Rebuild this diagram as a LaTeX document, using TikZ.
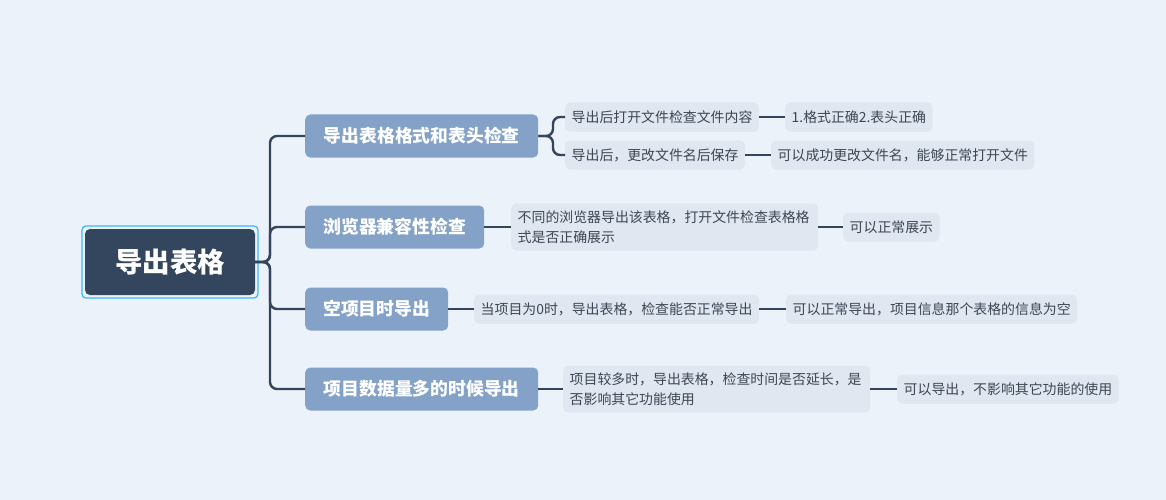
\documentclass[tikz,border=0pt]{standalone}
\usepackage{fontspec}
\setmainfont{Noto Sans CJK SC}
\usepackage{tikz}
\usepackage{xcolor}
\definecolor{bgcol}{RGB}{235,242,250}
\definecolor{rootcol}{RGB}{52,70,94}
\definecolor{rimcol}{RGB}{61,184,245}
\definecolor{topcol}{RGB}{132,162,200}
\definecolor{subcol}{RGB}{224,231,240}
\definecolor{txtcol}{RGB}{60,70,84}
\definecolor{linecol}{RGB}{52,68,92}

\begin{document}
\begin{tikzpicture}[x = 1pt, y = -1pt,
            conn/.style = {linecol, line width = 2.4pt, rounded corners = 7pt},
            topic/.style = {fill = topcol, text = white, rounded corners = 5pt, anchor = west,
                minimum height = 43pt, font = \fontsize{17.8}{20}\selectfont\bfseries},
            leaf/.style = {fill = subcol, text = txtcol, rounded corners = 5pt, anchor = west,
                minimum height = 29pt, inner xsep = 6.5pt, font = \fontsize{13.9}{20}\selectfont},
            leaftwo/.style = {leaf, text width = 294pt, align = left, minimum height = 47pt}]
            \fill[bgcol] (0,0) rectangle (1166,500);
            \useasboundingbox (0,0) rectangle (1166,500);
            \draw[rimcol, line width = 1.3pt, rounded corners = 4pt] (82,226) rectangle (258,298);
            \node[fill = rootcol, text = white, rounded corners = 5pt, minimum width = 170pt,
                minimum height = 66pt, font = \fontsize{27.5}{30}\selectfont\bfseries] (root) at (170,262) {导出表格};
            \node[topic, minimum width = 233pt] (t1) at (305,136) {导出表格格式和表头检查};
            \node[topic, minimum width = 179pt] (t2) at (305,227) {浏览器兼容性检查};
            \node[topic, minimum width = 143pt] (t3) at (305,309) {空项目时导出};
            \node[topic, minimum width = 233pt] (t4) at (305,389) {项目数据量多的时候导出};
            \node[leaf] (s1a) at (565,117) {导出后打开文件检查文件内容};
            \node[leaf] (s1b) at (565,155) {导出后，更改文件名后保存};
            \node[leaf] (r1a) at (785,117) {1.格式正确2.表头正确};
            \node[leaf] (r1b) at (771,155) {可以成功更改文件名，能够正常打开文件};
            \node[leaftwo] (s2) at (511,227) {不同的浏览器导出该表格，打开文件检查表格格\\式是否正确展示};
            \node[leaf] (r2) at (843,227) {可以正常展示};
            \node[leaf] (s3) at (474,309) {当项目为0时，导出表格，检查能否正常导出};
            \node[leaf] (r3) at (786,309) {可以正常导出，项目信息那个表格的信息为空};
            \node[leaftwo] (s4) at (563,389) {项目较多时，导出表格，检查时间是否延长，是\\否影响其它功能使用};
            \node[leaf] (r4) at (897,389) {可以导出，不影响其它功能的使用};
            \draw[conn] (root.east) -- (270,262) |- (t1.west);
            \draw[conn] (root.east) -- (270,262) |- (t2.west);
            \draw[conn] (root.east) -- (270,262) |- (t3.west);
            \draw[conn] (root.east) -- (270,262) |- (t4.west);
            \draw[conn] (t1.east) -- (553,136) |- (s1a.west);
            \draw[conn] (t1.east) -- (553,136) |- (s1b.west);
            \draw[conn] (s1a.east) -- (r1a.west);
            \draw[conn] (s1b.east) -- (r1b.west);
            \draw[conn] (t2.east) -- (s2.west);
            \draw[conn] (s2.east) -- (r2.west);
            \draw[conn] (t3.east) -- (s3.west);
            \draw[conn] (s3.east) -- (r3.west);
            \draw[conn] (t4.east) -- (s4.west);
            \draw[conn] (s4.east) -- (r4.west);
        \end{tikzpicture}
\end{document}
